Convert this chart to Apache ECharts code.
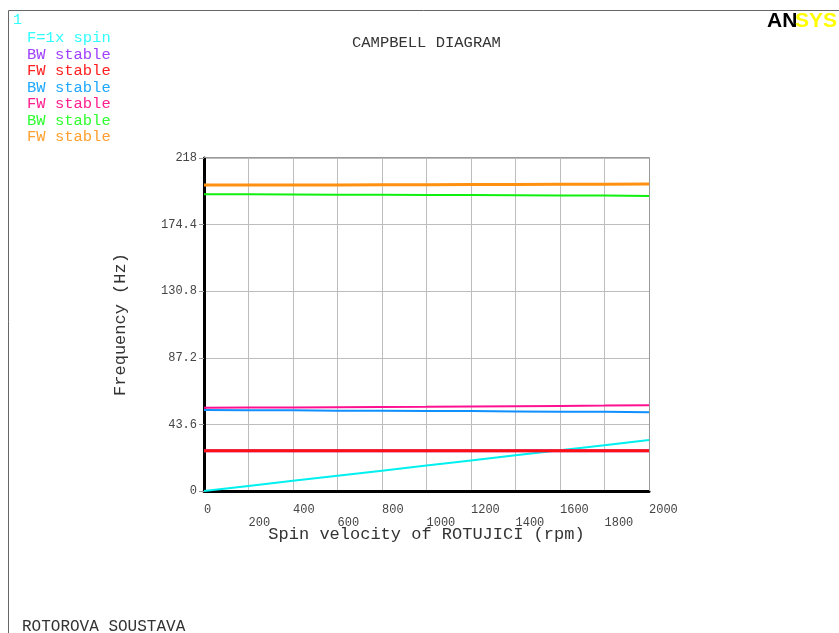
<!DOCTYPE html>
<html>
<head>
<meta charset="utf-8">
<script src="https://cdn.jsdelivr.net/npm/echarts@6/dist/echarts.min.js"></script>
<style>html,body{margin:0;padding:0;background:#fff}#c{width:839px;height:633px}</style>
</head>
<body>
<div id="c"></div>
<script>
const speeds = [0, 200, 400, 600, 800, 1000, 1200, 1400, 1600, 1800, 2000];
const spin1x = [0, 3.33, 6.67, 10.0, 13.33, 16.67, 20.0, 23.33, 26.67, 30.0, 33.33];
const bw1 = [26.3, 26.3, 26.3, 26.3, 26.3, 26.3, 26.3, 26.3, 26.3, 26.3, 26.3];
const fw1 = [26.3, 26.3, 26.3, 26.3, 26.3, 26.3, 26.3, 26.3, 26.3, 26.3, 26.3];
const bw2 = [53.0, 52.9, 52.8, 52.6, 52.5, 52.4, 52.3, 52.1, 51.9, 51.8, 51.6];
const fw2 = [54.5, 54.6, 54.7, 54.9, 55.0, 55.1, 55.3, 55.5, 55.7, 55.9, 56.2];
const bw3 = [194.3, 194.2, 194.1, 194.0, 193.9, 193.8, 193.7, 193.6, 193.5, 193.4, 193.1];
const fw3 = [200.3, 200.3, 200.4, 200.4, 200.5, 200.5, 200.6, 200.7, 200.8, 200.8, 200.9];
const yTicks = [0, 43.6, 87.2, 130.8, 174.4, 218];

const seriesDefs = [
  {name: 'F=1x spin', data: spin1x, color: '#00f0f0', width: 2},
  {name: 'BW stable 1', data: bw1, color: '#a040ff', width: 3},
  {name: 'FW stable 1', data: fw1, color: '#ff1010', width: 3},
  {name: 'BW stable 2', data: bw2, color: '#1090ff', width: 2},
  {name: 'FW stable 2', data: fw2, color: '#ff1090', width: 2},
  {name: 'BW stable 3', data: bw3, color: '#10f010', width: 2},
  {name: 'FW stable 3', data: fw3, color: '#ff9010', width: 3}
];
const legendColors = ['#30ffff', '#a040ff', '#ff2020', '#20a8ff', '#ff2090', '#30ff30', '#ffa030'];

const font = '"Liberation Mono", "DejaVu Sans Mono", monospace';
const chart = echarts.init(document.getElementById('c'), null, {renderer: 'canvas'});
chart.setOption({
  backgroundColor: '#fff',
  animation: false,
  title: {
    text: 'CAMPBELL DIAGRAM', left: 347, top: 30,
    textStyle: {fontFamily: font, fontSize: 15.5, fontWeight: 'normal', color: '#333'}
  },
  legend: {
    orient: 'vertical', left: 22, top: 30, padding: 0, icon: 'none', itemWidth: 0, itemHeight: 15, itemGap: 0.5,
    selectedMode: false,
    formatter: n => n.replace(/ \d$/, ''),
    data: seriesDefs.map((s, i) => ({name: s.name, textStyle: {color: legendColors[i]}})),
    textStyle: {fontFamily: font, fontSize: 15.5, lineHeight: 16, padding: 0}
  },
  grid: {left: 204, right: 190, top: 158, bottom: 142, show: false},
  xAxis: {
    type: 'value', min: 0, max: 2000, interval: 200,
    name: 'Spin velocity of ROTUJICI (rpm)', nameLocation: 'middle', nameGap: 35, nameMoveOverlap: false,
    nameTextStyle: {fontFamily: font, fontSize: 17, color: '#333'},
    axisLine: {show: true, lineStyle: {color: '#000', width: 3}},
    axisTick: {show: false},
    splitLine: {show: true, lineStyle: {color: '#bdbdbd', width: 1}},
    axisLabel: {
      fontFamily: font, fontSize: 12, color: '#444', align: 'left', margin: 12, lineHeight: 13,
      showMaxLabel: true,
      formatter: (v) => (Math.round(v / 200) % 2 === 1 ? '\n' + v : v + '')
    }
  },
  yAxis: {
    type: 'value', min: 0, max: 218, interval: 43.6,
    name: 'Frequency (Hz)', nameLocation: 'middle', nameGap: 75, nameRotate: 90, nameMoveOverlap: false,
    nameTextStyle: {fontFamily: font, fontSize: 17, color: '#333'},
    axisLine: {show: true, lineStyle: {color: '#000', width: 3}},
    axisTick: {show: true, length: 5, lineStyle: {color: '#999'}},
    splitLine: {show: true, lineStyle: {color: '#bdbdbd', width: 1}},
    axisLabel: {
      fontFamily: font, fontSize: 12, color: '#444', margin: 7,
      formatter: v => {
        const r = Math.round(v * 10) / 10;
        return yTicks.includes(r) ? (Number.isInteger(r) ? r + '' : r.toFixed(1)) : '';
      }
    }
  },
  graphic: [
    {type: 'line', shape: {x1: 8.5, y1: 10.5, x2: 839, y2: 10.5}, style: {stroke: '#666', lineWidth: 1}, z: 10},
    {type: 'line', shape: {x1: 8.5, y1: 10.5, x2: 8.5, y2: 633}, style: {stroke: '#666', lineWidth: 1}, z: 10},
    {type: 'line', shape: {x1: 204, y1: 157.5, x2: 649.5, y2: 157.5}, style: {stroke: '#999', lineWidth: 1}, z: 1},
    {type: 'line', shape: {x1: 649.5, y1: 157.5, x2: 649.5, y2: 491}, style: {stroke: '#999', lineWidth: 1}, z: 1},
    {type: 'text', left: 13, top: 13, style: {text: '1', fill: '#30ffff', font: '15px ' + font}},
    {type: 'text', left: 22, top: 619, style: {text: 'ROTOROVA SOUSTAVA', fill: '#333', font: '16px ' + font}},
    {type: 'text', left: 767, top: 11, style: {text: 'AN', fill: '#000', font: 'bold 21px "Liberation Sans Narrow", "Liberation Sans", Arial, sans-serif'}},
    {type: 'text', left: 795, top: 11, style: {text: 'SYS', fill: '#ffff00', font: 'bold 21px "Liberation Sans Narrow", "Liberation Sans", Arial, sans-serif'}}
  ],
  series: seriesDefs.map(s => ({
    name: s.name, type: 'line', showSymbol: false, silent: true,
    data: speeds.map((x, i) => [x, s.data[i]]),
    lineStyle: {color: s.color, width: s.width},
    itemStyle: {color: s.color}
  }))
});
</script>
</body>
</html>
